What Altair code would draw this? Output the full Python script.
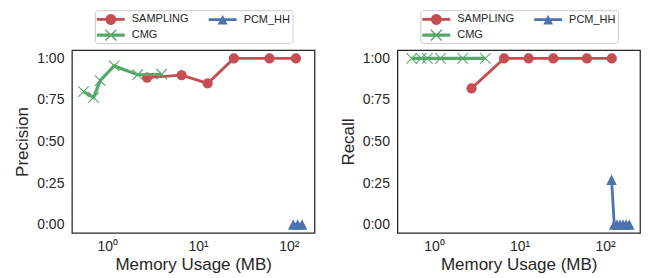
import math
import altair as alt
import pandas as pd

# ---------------- data ----------------
series_names = ["SAMPLING", "CMG", "PCM_HH"]
series_colors = {"SAMPLING": "#C44E52", "CMG": "#55A868", "PCM_HH": "#4C72B0"}
legend_order = ["SAMPLING", "CMG", "PCM_HH"]

# Precision panel
prec_sampling_mem = [2.74, 6.58, 12.75, 24.8, 61.3, 119.7]
prec_sampling_val = [0.885, 0.90, 0.85, 1.0, 1.0, 1.0]
prec_cmg_mem = [0.547, 0.705, 0.834, 1.19, 2.16, 3.97]
prec_cmg_val = [0.80, 0.765, 0.866, 0.955, 0.902, 0.905]
prec_pcm_mem = [112, 125, 140]
prec_pcm_val = [0.0, 0.0, 0.0]

# Recall panel
rec_sampling_mem = [2.74, 6.58, 12.75, 24.8, 61.3, 119.7]
rec_sampling_val = [0.82, 1.0, 1.0, 1.0, 1.0, 1.0]
rec_cmg_mem = [0.547, 0.705, 0.834, 1.19, 2.16, 3.97]
rec_cmg_val = [1.0, 1.0, 1.0, 1.0, 1.0, 1.0]
rec_pcm_mem = [119, 128, 138, 150, 162, 176, 192]
rec_pcm_val = [0.27, 0.0, 0.0, 0.0, 0.0, 0.0, 0.0]

x_tick_values = [1, 10, 100]
x_tick_labels = ["10\u2070", "10\u00b9", "10\u00b2"]
y_tick_values = [0.0, 0.25, 0.5, 0.75, 1.0]
y_tick_labels = ["0:00", "0:25", "0:50", "0:75", "1:00"]

x_title = "Memory Usage (MB)"
prec_domain_x = [0.407, 192]
rec_domain_x = [0.372, 256]
y_domain = [-0.05, 1.05]

TEXT = "#262626"
FONT = "Liberation Sans"


# ---------------- symbol paths ----------------
def _cw(pts):
    a = sum(pts[i][0] * pts[(i + 1) % len(pts)][1] - pts[(i + 1) % len(pts)][0] * pts[i][1]
            for i in range(len(pts)))
    return pts if a > 0 else pts[::-1]


def _poly(pts):
    pts = _cw(pts)
    return "M" + " L".join(f"{x:.3f},{y:.3f}" for x, y in pts) + " Z"


def _bar(t):
    return _poly([(-1, -t), (3, -t), (3, t), (-1, t)])


def _circle(cx, cy, r, n=28):
    return _poly([(cx + r * math.cos(2 * math.pi * k / n), cy + r * math.sin(2 * math.pi * k / n))
                  for k in range(n)])


def _tri(cx, cy, a):
    return _poly([(cx, cy - a), (cx + a, cy + a), (cx - a, cy + a)])


def _xmark(cx, cy, a, t):
    d = t / math.sqrt(2)
    p1 = [(cx - a + d, cy - a - d), (cx + a + d, cy + a - d), (cx + a - d, cy + a + d), (cx - a - d, cy - a + d)]
    p2 = [(cx - a - d, cy + a - d), (cx + a - d, cy - a - d), (cx + a + d, cy - a + d), (cx - a + d, cy + a + d)]
    return _poly(p1) + " " + _poly(p2)


legend_paths = {
    "SAMPLING": _bar(0.2) + " " + _circle(1, 0, 0.78),
    "PCM_HH": _bar(0.2) + " " + _tri(1, 0, 0.7),
    "CMG": _bar(0.23) + " " + _xmark(1, 0, 0.78, 0.1),
}

X_PATH = "M-1,-1L1,1M-1,1L1,-1"
TRI_PATH = "M0,-1L1,1L-1,1Z"

marker_style = {
    "SAMPLING": dict(shape="circle", filled=True, size=105),
    "CMG": dict(shape=X_PATH, filled=False, size=110, strokeWidth=1.1),
    "PCM_HH": dict(shape=TRI_PATH, filled=True, size=110),
}
line_width = {"SAMPLING": 2.8, "CMG": 3.2, "PCM_HH": 2.8}


def make_panel(data, y_title, x_domain):
    x_enc = alt.X("mem:Q", scale=alt.Scale(type="log", domain=x_domain, nice=False),
                  axis=alt.Axis(values=x_tick_values, title=x_title,
                                labelExpr=" : ".join(
                                    f"datum.value == {v} ? '{l}'" for v, l in zip(x_tick_values[:-1], x_tick_labels[:-1]))
                                + f" : '{x_tick_labels[-1]}'",
                                labelPadding=7, titlePadding=3))
    y_enc = alt.Y("val:Q", scale=alt.Scale(domain=y_domain, nice=False, zero=False),
                  axis=alt.Axis(values=y_tick_values, title=y_title,
                                labelExpr=" : ".join(
                                    f"datum.value == {v} ? '{l}'" for v, l in zip(y_tick_values[:-1], y_tick_labels[:-1]))
                                + f" : '{y_tick_labels[-1]}'",
                                labelPadding=8, titlePadding=5))
    layers = []
    for name in series_names:
        mem, val = data[name]
        df = pd.DataFrame({"mem": mem, "val": val})
        c = series_colors[name]
        layers.append(alt.Chart(df).mark_line(color=c, strokeWidth=line_width[name]).encode(x=x_enc, y=y_enc))
        layers.append(alt.Chart(df).mark_point(color=c, opacity=1, **marker_style[name]).encode(x=x_enc, y=y_enc))

    leg = alt.Legend(title=None, orient="none", legendX=23, legendY=-40, columns=2,
                     symbolSize=196, symbolStrokeWidth=0, symbolOpacity=1,
                     labelFontSize=11, labelFont=FONT, labelColor=TEXT, labelOffset=21,
                     columnPadding=20, rowPadding=3, padding=2,
                     strokeColor="#cccccc", fillColor="white", cornerRadius=3)
    leg_df = pd.DataFrame({"series": legend_order, "mem": [1, 1, 1], "val": [0.5, 0.5, 0.5]})
    legend_layer = alt.Chart(leg_df).transform_filter("false").mark_point(filled=True, opacity=1).encode(
        x=x_enc, y=y_enc,
        color=alt.Color("series:N", sort=legend_order,
                        scale=alt.Scale(domain=legend_order,
                                        range=[series_colors[s] for s in legend_order]), legend=leg),
        shape=alt.Shape("series:N", sort=legend_order,
                        scale=alt.Scale(domain=legend_order,
                                        range=[legend_paths[s] for s in legend_order]), legend=leg),
    )
    layers.append(legend_layer)
    return alt.layer(*layers).properties(width=243, height=183)


left = make_panel({"SAMPLING": (prec_sampling_mem, prec_sampling_val),
                   "CMG": (prec_cmg_mem, prec_cmg_val),
                   "PCM_HH": (prec_pcm_mem, prec_pcm_val)}, "Precision", prec_domain_x)
right = make_panel({"SAMPLING": (rec_sampling_mem, rec_sampling_val),
                    "CMG": (rec_cmg_mem, rec_cmg_val),
                    "PCM_HH": (rec_pcm_mem, rec_pcm_val)}, "Recall", rec_domain_x)

chart = alt.hconcat(left, right, spacing=23).resolve_scale(color="independent", shape="independent").properties(
    padding={"left": 5, "top": 0, "right": 0, "bottom": 0}
).configure(font=FONT).configure_view(stroke=TEXT, strokeWidth=1.25).configure_axis(
    domain=False, ticks=False, grid=False, labelFontSize=14, titleFontSize=17,
    labelColor=TEXT, titleColor=TEXT, titleFontWeight="normal", labelFont=FONT, titleFont=FONT
)

chart.save("out.html", embed_options={"renderer": "svg", "actions": False})
